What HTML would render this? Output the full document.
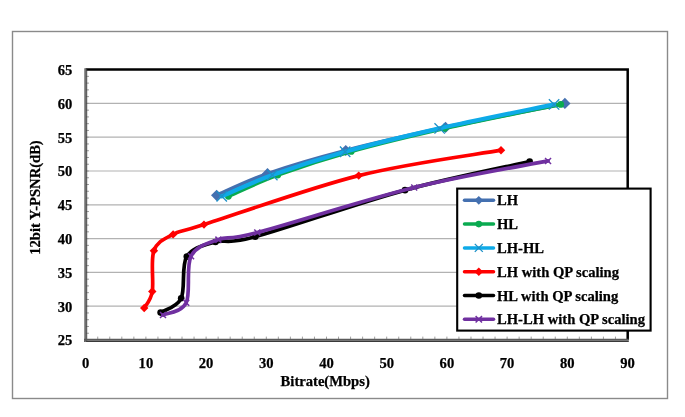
<!DOCTYPE html>
<html><head><meta charset="utf-8"><title>Chart</title>
<style>html,body{margin:0;padding:0;background:#fff;overflow:hidden;}svg{display:block;will-change:transform;font-family:"Liberation Serif",serif;}</style>
</head><body>
<svg width="685" height="417" viewBox="0 0 685 417">
<rect x="0" y="0" width="685" height="417" fill="#fff"/>
<rect x="12.5" y="31.5" width="655" height="367" fill="none" stroke="#8a8a8a" stroke-width="1.4"/>
<line x1="86" y1="306.20" x2="627" y2="306.20" stroke="#b2b2b2" stroke-width="1.2"/>
<line x1="86" y1="272.40" x2="627" y2="272.40" stroke="#b2b2b2" stroke-width="1.2"/>
<line x1="86" y1="238.60" x2="627" y2="238.60" stroke="#b2b2b2" stroke-width="1.2"/>
<line x1="86" y1="204.80" x2="627" y2="204.80" stroke="#b2b2b2" stroke-width="1.2"/>
<line x1="86" y1="171.00" x2="627" y2="171.00" stroke="#b2b2b2" stroke-width="1.2"/>
<line x1="86" y1="137.20" x2="627" y2="137.20" stroke="#b2b2b2" stroke-width="1.2"/>
<line x1="86" y1="103.40" x2="627" y2="103.40" stroke="#b2b2b2" stroke-width="1.2"/>
<path d="M85.5,69.4 H627.7 V340" fill="none" stroke="#000" stroke-width="2.5"/>
<line x1="86" y1="333.24" x2="89" y2="333.24" stroke="#a0a0a0" stroke-width="1"/>
<line x1="86" y1="326.48" x2="89" y2="326.48" stroke="#a0a0a0" stroke-width="1"/>
<line x1="86" y1="319.72" x2="89" y2="319.72" stroke="#a0a0a0" stroke-width="1"/>
<line x1="86" y1="312.96" x2="89" y2="312.96" stroke="#a0a0a0" stroke-width="1"/>
<line x1="86" y1="306.20" x2="89" y2="306.20" stroke="#a0a0a0" stroke-width="1"/>
<line x1="86" y1="299.44" x2="89" y2="299.44" stroke="#a0a0a0" stroke-width="1"/>
<line x1="86" y1="292.68" x2="89" y2="292.68" stroke="#a0a0a0" stroke-width="1"/>
<line x1="86" y1="285.92" x2="89" y2="285.92" stroke="#a0a0a0" stroke-width="1"/>
<line x1="86" y1="279.16" x2="89" y2="279.16" stroke="#a0a0a0" stroke-width="1"/>
<line x1="86" y1="272.40" x2="89" y2="272.40" stroke="#a0a0a0" stroke-width="1"/>
<line x1="86" y1="265.64" x2="89" y2="265.64" stroke="#a0a0a0" stroke-width="1"/>
<line x1="86" y1="258.88" x2="89" y2="258.88" stroke="#a0a0a0" stroke-width="1"/>
<line x1="86" y1="252.12" x2="89" y2="252.12" stroke="#a0a0a0" stroke-width="1"/>
<line x1="86" y1="245.36" x2="89" y2="245.36" stroke="#a0a0a0" stroke-width="1"/>
<line x1="86" y1="238.60" x2="89" y2="238.60" stroke="#a0a0a0" stroke-width="1"/>
<line x1="86" y1="231.84" x2="89" y2="231.84" stroke="#a0a0a0" stroke-width="1"/>
<line x1="86" y1="225.08" x2="89" y2="225.08" stroke="#a0a0a0" stroke-width="1"/>
<line x1="86" y1="218.32" x2="89" y2="218.32" stroke="#a0a0a0" stroke-width="1"/>
<line x1="86" y1="211.56" x2="89" y2="211.56" stroke="#a0a0a0" stroke-width="1"/>
<line x1="86" y1="204.80" x2="89" y2="204.80" stroke="#a0a0a0" stroke-width="1"/>
<line x1="86" y1="198.04" x2="89" y2="198.04" stroke="#a0a0a0" stroke-width="1"/>
<line x1="86" y1="191.28" x2="89" y2="191.28" stroke="#a0a0a0" stroke-width="1"/>
<line x1="86" y1="184.52" x2="89" y2="184.52" stroke="#a0a0a0" stroke-width="1"/>
<line x1="86" y1="177.76" x2="89" y2="177.76" stroke="#a0a0a0" stroke-width="1"/>
<line x1="86" y1="171.00" x2="89" y2="171.00" stroke="#a0a0a0" stroke-width="1"/>
<line x1="86" y1="164.24" x2="89" y2="164.24" stroke="#a0a0a0" stroke-width="1"/>
<line x1="86" y1="157.48" x2="89" y2="157.48" stroke="#a0a0a0" stroke-width="1"/>
<line x1="86" y1="150.72" x2="89" y2="150.72" stroke="#a0a0a0" stroke-width="1"/>
<line x1="86" y1="143.96" x2="89" y2="143.96" stroke="#a0a0a0" stroke-width="1"/>
<line x1="86" y1="137.20" x2="89" y2="137.20" stroke="#a0a0a0" stroke-width="1"/>
<line x1="86" y1="130.44" x2="89" y2="130.44" stroke="#a0a0a0" stroke-width="1"/>
<line x1="86" y1="123.68" x2="89" y2="123.68" stroke="#a0a0a0" stroke-width="1"/>
<line x1="86" y1="116.92" x2="89" y2="116.92" stroke="#a0a0a0" stroke-width="1"/>
<line x1="86" y1="110.16" x2="89" y2="110.16" stroke="#a0a0a0" stroke-width="1"/>
<line x1="86" y1="103.40" x2="89" y2="103.40" stroke="#a0a0a0" stroke-width="1"/>
<line x1="86" y1="96.64" x2="89" y2="96.64" stroke="#a0a0a0" stroke-width="1"/>
<line x1="86" y1="89.88" x2="89" y2="89.88" stroke="#a0a0a0" stroke-width="1"/>
<line x1="86" y1="83.12" x2="89" y2="83.12" stroke="#a0a0a0" stroke-width="1"/>
<line x1="86" y1="76.36" x2="89" y2="76.36" stroke="#a0a0a0" stroke-width="1"/>
<line x1="97.74" y1="336.6" x2="97.74" y2="340" stroke="#a0a0a0" stroke-width="1"/>
<line x1="109.78" y1="336.6" x2="109.78" y2="340" stroke="#a0a0a0" stroke-width="1"/>
<line x1="121.82" y1="336.6" x2="121.82" y2="340" stroke="#a0a0a0" stroke-width="1"/>
<line x1="133.86" y1="336.6" x2="133.86" y2="340" stroke="#a0a0a0" stroke-width="1"/>
<line x1="145.90" y1="336.6" x2="145.90" y2="340" stroke="#a0a0a0" stroke-width="1"/>
<line x1="157.94" y1="336.6" x2="157.94" y2="340" stroke="#a0a0a0" stroke-width="1"/>
<line x1="169.98" y1="336.6" x2="169.98" y2="340" stroke="#a0a0a0" stroke-width="1"/>
<line x1="182.02" y1="336.6" x2="182.02" y2="340" stroke="#a0a0a0" stroke-width="1"/>
<line x1="194.06" y1="336.6" x2="194.06" y2="340" stroke="#a0a0a0" stroke-width="1"/>
<line x1="206.10" y1="336.6" x2="206.10" y2="340" stroke="#a0a0a0" stroke-width="1"/>
<line x1="218.14" y1="336.6" x2="218.14" y2="340" stroke="#a0a0a0" stroke-width="1"/>
<line x1="230.18" y1="336.6" x2="230.18" y2="340" stroke="#a0a0a0" stroke-width="1"/>
<line x1="242.22" y1="336.6" x2="242.22" y2="340" stroke="#a0a0a0" stroke-width="1"/>
<line x1="254.26" y1="336.6" x2="254.26" y2="340" stroke="#a0a0a0" stroke-width="1"/>
<line x1="266.30" y1="336.6" x2="266.30" y2="340" stroke="#a0a0a0" stroke-width="1"/>
<line x1="278.34" y1="336.6" x2="278.34" y2="340" stroke="#a0a0a0" stroke-width="1"/>
<line x1="290.38" y1="336.6" x2="290.38" y2="340" stroke="#a0a0a0" stroke-width="1"/>
<line x1="302.42" y1="336.6" x2="302.42" y2="340" stroke="#a0a0a0" stroke-width="1"/>
<line x1="314.46" y1="336.6" x2="314.46" y2="340" stroke="#a0a0a0" stroke-width="1"/>
<line x1="326.50" y1="336.6" x2="326.50" y2="340" stroke="#a0a0a0" stroke-width="1"/>
<line x1="338.54" y1="336.6" x2="338.54" y2="340" stroke="#a0a0a0" stroke-width="1"/>
<line x1="350.58" y1="336.6" x2="350.58" y2="340" stroke="#a0a0a0" stroke-width="1"/>
<line x1="362.62" y1="336.6" x2="362.62" y2="340" stroke="#a0a0a0" stroke-width="1"/>
<line x1="374.66" y1="336.6" x2="374.66" y2="340" stroke="#a0a0a0" stroke-width="1"/>
<line x1="386.70" y1="336.6" x2="386.70" y2="340" stroke="#a0a0a0" stroke-width="1"/>
<line x1="398.74" y1="336.6" x2="398.74" y2="340" stroke="#a0a0a0" stroke-width="1"/>
<line x1="410.78" y1="336.6" x2="410.78" y2="340" stroke="#a0a0a0" stroke-width="1"/>
<line x1="422.82" y1="336.6" x2="422.82" y2="340" stroke="#a0a0a0" stroke-width="1"/>
<line x1="434.86" y1="336.6" x2="434.86" y2="340" stroke="#a0a0a0" stroke-width="1"/>
<line x1="446.90" y1="336.6" x2="446.90" y2="340" stroke="#a0a0a0" stroke-width="1"/>
<line x1="458.94" y1="336.6" x2="458.94" y2="340" stroke="#a0a0a0" stroke-width="1"/>
<line x1="470.98" y1="336.6" x2="470.98" y2="340" stroke="#a0a0a0" stroke-width="1"/>
<line x1="483.02" y1="336.6" x2="483.02" y2="340" stroke="#a0a0a0" stroke-width="1"/>
<line x1="495.06" y1="336.6" x2="495.06" y2="340" stroke="#a0a0a0" stroke-width="1"/>
<line x1="507.10" y1="336.6" x2="507.10" y2="340" stroke="#a0a0a0" stroke-width="1"/>
<line x1="519.14" y1="336.6" x2="519.14" y2="340" stroke="#a0a0a0" stroke-width="1"/>
<line x1="531.18" y1="336.6" x2="531.18" y2="340" stroke="#a0a0a0" stroke-width="1"/>
<line x1="543.22" y1="336.6" x2="543.22" y2="340" stroke="#a0a0a0" stroke-width="1"/>
<line x1="555.26" y1="336.6" x2="555.26" y2="340" stroke="#a0a0a0" stroke-width="1"/>
<line x1="567.30" y1="336.6" x2="567.30" y2="340" stroke="#a0a0a0" stroke-width="1"/>
<line x1="579.34" y1="336.6" x2="579.34" y2="340" stroke="#a0a0a0" stroke-width="1"/>
<line x1="591.38" y1="336.6" x2="591.38" y2="340" stroke="#a0a0a0" stroke-width="1"/>
<line x1="603.42" y1="336.6" x2="603.42" y2="340" stroke="#a0a0a0" stroke-width="1"/>
<line x1="615.46" y1="336.6" x2="615.46" y2="340" stroke="#a0a0a0" stroke-width="1"/>
<line x1="86.7" y1="69" x2="86.7" y2="341.5" stroke="#3a3a3a" stroke-width="1.0"/>
<line x1="84" y1="341.3" x2="628.8" y2="341.3" stroke="#3a3a3a" stroke-width="1.3"/>
<line x1="85.2" y1="68.3" x2="85.2" y2="342" stroke="#707070" stroke-width="1.9"/>
<line x1="84" y1="339.7" x2="628.8" y2="339.7" stroke="#5a5a5a" stroke-width="2.0"/>
<text x="72.3" y="345.40" font-size="14.6" text-anchor="end" font-family="Liberation Serif" font-weight="bold" stroke="#000" stroke-width="0.25">25</text>
<text x="72.3" y="311.60" font-size="14.6" text-anchor="end" font-family="Liberation Serif" font-weight="bold" stroke="#000" stroke-width="0.25">30</text>
<text x="72.3" y="277.80" font-size="14.6" text-anchor="end" font-family="Liberation Serif" font-weight="bold" stroke="#000" stroke-width="0.25">35</text>
<text x="72.3" y="244.00" font-size="14.6" text-anchor="end" font-family="Liberation Serif" font-weight="bold" stroke="#000" stroke-width="0.25">40</text>
<text x="72.3" y="210.20" font-size="14.6" text-anchor="end" font-family="Liberation Serif" font-weight="bold" stroke="#000" stroke-width="0.25">45</text>
<text x="72.3" y="176.40" font-size="14.6" text-anchor="end" font-family="Liberation Serif" font-weight="bold" stroke="#000" stroke-width="0.25">50</text>
<text x="72.3" y="142.60" font-size="14.6" text-anchor="end" font-family="Liberation Serif" font-weight="bold" stroke="#000" stroke-width="0.25">55</text>
<text x="72.3" y="108.80" font-size="14.6" text-anchor="end" font-family="Liberation Serif" font-weight="bold" stroke="#000" stroke-width="0.25">60</text>
<text x="72.3" y="75.00" font-size="14.6" text-anchor="end" font-family="Liberation Serif" font-weight="bold" stroke="#000" stroke-width="0.25">65</text>
<text x="85.70" y="368.3" font-size="14.6" text-anchor="middle" font-family="Liberation Serif" font-weight="bold" stroke="#000" stroke-width="0.25">0</text>
<text x="145.90" y="368.3" font-size="14.6" text-anchor="middle" font-family="Liberation Serif" font-weight="bold" stroke="#000" stroke-width="0.25">10</text>
<text x="206.10" y="368.3" font-size="14.6" text-anchor="middle" font-family="Liberation Serif" font-weight="bold" stroke="#000" stroke-width="0.25">20</text>
<text x="266.30" y="368.3" font-size="14.6" text-anchor="middle" font-family="Liberation Serif" font-weight="bold" stroke="#000" stroke-width="0.25">30</text>
<text x="326.50" y="368.3" font-size="14.6" text-anchor="middle" font-family="Liberation Serif" font-weight="bold" stroke="#000" stroke-width="0.25">40</text>
<text x="386.70" y="368.3" font-size="14.6" text-anchor="middle" font-family="Liberation Serif" font-weight="bold" stroke="#000" stroke-width="0.25">50</text>
<text x="446.90" y="368.3" font-size="14.6" text-anchor="middle" font-family="Liberation Serif" font-weight="bold" stroke="#000" stroke-width="0.25">60</text>
<text x="507.10" y="368.3" font-size="14.6" text-anchor="middle" font-family="Liberation Serif" font-weight="bold" stroke="#000" stroke-width="0.25">70</text>
<text x="567.30" y="368.3" font-size="14.6" text-anchor="middle" font-family="Liberation Serif" font-weight="bold" stroke="#000" stroke-width="0.25">80</text>
<text x="627.50" y="368.3" font-size="14.6" text-anchor="middle" font-family="Liberation Serif" font-weight="bold" stroke="#000" stroke-width="0.25">90</text>
<text x="0" y="0" font-size="14.6" text-anchor="middle" font-family="Liberation Serif" font-weight="bold" stroke="#000" stroke-width="0.25" transform="translate(40.2,197.5) rotate(-90)">12bit Y-PSNR(dB)</text>
<text x="325.2" y="385.8" font-size="14.6" text-anchor="middle" font-family="Liberation Serif" font-weight="bold" stroke="#000" stroke-width="0.25">Bitrate(Mbps)</text>
<path d="M216.63,195.34 C225.11,191.73 245.98,181.17 267.50,173.70 C289.03,166.23 316.10,158.23 345.76,150.52 C375.43,142.80 408.99,135.25 445.52,127.40 C482.04,119.55 545.00,107.40 564.89,103.40" fill="none" stroke="#4470b0" stroke-width="3.70" stroke-linecap="round" stroke-linejoin="round"/>
<path d="M216.63,189.74 L222.23,195.34 L216.63,200.94 L211.03,195.34 Z" fill="#4470b0"/>
<path d="M267.50,168.10 L273.10,173.70 L267.50,179.30 L261.90,173.70 Z" fill="#4470b0"/>
<path d="M345.76,144.92 L351.36,150.52 L345.76,156.12 L340.16,150.52 Z" fill="#4470b0"/>
<path d="M445.52,121.80 L451.12,127.40 L445.52,133.00 L439.92,127.40 Z" fill="#4470b0"/>
<path d="M564.89,97.80 L570.49,103.40 L564.89,109.00 L559.29,103.40 Z" fill="#4470b0"/>
<path d="M228.37,196.35 C236.60,192.80 257.27,182.55 277.74,175.06 C298.21,167.56 323.39,159.17 351.18,151.40 C378.97,143.62 409.58,136.24 444.49,128.41 C479.41,120.58 541.31,108.41 560.68,104.41" fill="none" stroke="#0aaa50" stroke-width="3.70" stroke-linecap="round" stroke-linejoin="round"/>
<circle cx="228.37" cy="196.35" r="3.40" fill="#0aaa50"/>
<circle cx="277.74" cy="175.06" r="3.40" fill="#0aaa50"/>
<circle cx="351.18" cy="151.40" r="3.40" fill="#0aaa50"/>
<circle cx="444.49" cy="128.41" r="3.40" fill="#0aaa50"/>
<circle cx="560.68" cy="104.41" r="3.40" fill="#0aaa50"/>
<path d="M221.75,196.35 C230.18,192.80 251.75,182.49 272.32,175.06 C292.89,167.62 317.27,159.51 345.16,151.73 C373.05,143.96 404.86,136.30 439.68,128.41 C474.49,120.53 534.99,108.41 554.06,104.41" fill="none" stroke="#0eaae8" stroke-width="4.20" stroke-linecap="round" stroke-linejoin="round"/>
<path d="M216.55,191.15 L226.95,201.55 M216.55,201.55 L226.95,191.15" stroke="#1c90c8" stroke-width="1.3" fill="none"/>
<path d="M267.12,169.86 L277.52,180.26 M267.12,180.26 L277.52,169.86" stroke="#1c90c8" stroke-width="1.3" fill="none"/>
<path d="M339.96,146.53 L350.36,156.93 M339.96,156.93 L350.36,146.53" stroke="#1c90c8" stroke-width="1.3" fill="none"/>
<path d="M434.48,123.21 L444.88,133.61 M434.48,133.61 L444.88,123.21" stroke="#1c90c8" stroke-width="1.3" fill="none"/>
<path d="M548.86,99.21 L559.26,109.61 M548.86,109.61 L559.26,99.21" stroke="#1c90c8" stroke-width="1.3" fill="none"/>
<path d="M144.21,308.03 C145.56,305.28 150.67,301.08 152.28,291.53 C153.90,281.98 150.44,260.22 153.91,250.70 C157.38,241.18 164.76,238.76 173.11,234.41 C181.46,230.06 173.06,234.41 203.99,224.61 C234.93,214.80 309.20,188.00 358.71,175.60 C408.21,163.19 477.30,154.42 501.02,150.18" fill="none" stroke="#ff0000" stroke-width="3.70" stroke-linecap="round" stroke-linejoin="round"/>
<path d="M144.21,303.83 L148.41,308.03 L144.21,312.23 L140.01,308.03 Z" fill="#ff0000"/>
<path d="M152.28,287.33 L156.48,291.53 L152.28,295.73 L148.08,291.53 Z" fill="#ff0000"/>
<path d="M153.91,246.50 L158.11,250.70 L153.91,254.90 L149.71,250.70 Z" fill="#ff0000"/>
<path d="M173.11,230.21 L177.31,234.41 L173.11,238.61 L168.91,234.41 Z" fill="#ff0000"/>
<path d="M203.99,220.41 L208.19,224.61 L203.99,228.81 L199.79,224.61 Z" fill="#ff0000"/>
<path d="M358.71,171.40 L362.91,175.60 L358.71,179.80 L354.51,175.60 Z" fill="#ff0000"/>
<path d="M501.02,145.98 L505.22,150.18 L501.02,154.38 L496.82,150.18 Z" fill="#ff0000"/>
<path d="M160.59,312.62 C164.02,310.22 176.81,307.56 181.18,298.22 C185.54,288.88 181.07,265.96 186.78,256.58 C192.48,247.21 204.02,245.28 215.43,241.98 C226.84,238.68 223.63,245.42 255.22,236.77 C286.82,228.13 359.26,202.66 405.00,190.13 C450.74,177.60 508.90,166.36 529.67,161.60" fill="none" stroke="#000000" stroke-width="3.70" stroke-linecap="round" stroke-linejoin="round"/>
<circle cx="160.59" cy="312.62" r="3.30" fill="#000000"/>
<circle cx="181.18" cy="298.22" r="3.30" fill="#000000"/>
<circle cx="186.78" cy="256.58" r="3.30" fill="#000000"/>
<circle cx="215.43" cy="241.98" r="3.30" fill="#000000"/>
<circle cx="255.22" cy="236.77" r="3.30" fill="#000000"/>
<circle cx="405.00" cy="190.13" r="3.30" fill="#000000"/>
<circle cx="529.67" cy="161.60" r="3.30" fill="#000000"/>
<path d="M163.00,314.99 C166.87,312.96 181.56,312.62 186.23,302.82 C190.91,293.02 185.69,266.71 191.05,256.18 C196.41,245.64 207.34,243.56 218.38,239.61 C229.42,235.67 224.63,241.20 257.27,232.52 C289.91,223.83 365.75,199.43 414.21,187.49 C462.67,175.56 525.73,165.36 548.04,160.93" fill="none" stroke="#7030a0" stroke-width="3.70" stroke-linecap="round" stroke-linejoin="round"/>
<path d="M160.00,311.99 L166.00,317.99 M160.00,317.99 L166.00,311.99" stroke="#7030a0" stroke-width="1.5" fill="none"/>
<path d="M183.23,299.82 L189.23,305.82 M183.23,305.82 L189.23,299.82" stroke="#7030a0" stroke-width="1.5" fill="none"/>
<path d="M188.05,253.18 L194.05,259.18 M188.05,259.18 L194.05,253.18" stroke="#7030a0" stroke-width="1.5" fill="none"/>
<path d="M215.38,236.61 L221.38,242.61 M215.38,242.61 L221.38,236.61" stroke="#7030a0" stroke-width="1.5" fill="none"/>
<path d="M254.27,229.52 L260.27,235.52 M254.27,235.52 L260.27,229.52" stroke="#7030a0" stroke-width="1.5" fill="none"/>
<path d="M411.21,184.49 L417.21,190.49 M411.21,190.49 L417.21,184.49" stroke="#7030a0" stroke-width="1.5" fill="none"/>
<path d="M545.04,157.93 L551.04,163.93 M545.04,163.93 L551.04,157.93" stroke="#7030a0" stroke-width="1.5" fill="none"/>
<rect x="457.2" y="188.6" width="193.4" height="142" fill="#fff" stroke="#000" stroke-width="2.1"/>
<line x1="464.5" y1="200.30" x2="493.5" y2="200.30" stroke="#4470b0" stroke-width="3.50" stroke-linecap="round"/>
<path d="M478.80,195.90 L483.20,200.30 L478.80,204.70 L474.40,200.30 Z" fill="#4470b0"/>
<text x="497" y="205.40" font-size="14.6" font-family="Liberation Serif" font-weight="bold" stroke="#000" stroke-width="0.25">LH</text>
<line x1="464.5" y1="224.10" x2="493.5" y2="224.10" stroke="#0aaa50" stroke-width="3.50" stroke-linecap="round"/>
<circle cx="478.80" cy="224.10" r="3.30" fill="#0aaa50"/>
<text x="497" y="229.20" font-size="14.6" font-family="Liberation Serif" font-weight="bold" stroke="#000" stroke-width="0.25">HL</text>
<line x1="464.5" y1="247.90" x2="493.5" y2="247.90" stroke="#0eaae8" stroke-width="3.50" stroke-linecap="round"/>
<path d="M474.80,243.90 L482.80,251.90 M474.80,251.90 L482.80,243.90" stroke="#1c90c8" stroke-width="1.3" fill="none"/>
<text x="497" y="253.00" font-size="14.6" font-family="Liberation Serif" font-weight="bold" stroke="#000" stroke-width="0.25">LH-HL</text>
<line x1="464.5" y1="271.70" x2="493.5" y2="271.70" stroke="#ff0000" stroke-width="3.50" stroke-linecap="round"/>
<path d="M478.80,267.40 L483.10,271.70 L478.80,276.00 L474.50,271.70 Z" fill="#ff0000"/>
<text x="497" y="276.80" font-size="14.6" font-family="Liberation Serif" font-weight="bold" stroke="#000" stroke-width="0.25">LH with QP scaling</text>
<line x1="464.5" y1="295.50" x2="493.5" y2="295.50" stroke="#000000" stroke-width="3.50" stroke-linecap="round"/>
<circle cx="478.80" cy="295.50" r="3.30" fill="#000000"/>
<text x="497" y="300.60" font-size="14.6" font-family="Liberation Serif" font-weight="bold" stroke="#000" stroke-width="0.25">HL with QP scaling</text>
<line x1="464.5" y1="319.30" x2="493.5" y2="319.30" stroke="#7030a0" stroke-width="3.50" stroke-linecap="round"/>
<path d="M475.60,316.10 L482.00,322.50 M475.60,322.50 L482.00,316.10" stroke="#7030a0" stroke-width="1.5" fill="none"/>
<text x="497" y="324.40" font-size="14.6" font-family="Liberation Serif" font-weight="bold" stroke="#000" stroke-width="0.25">LH-LH with QP scaling</text>
</svg>
</body></html>
